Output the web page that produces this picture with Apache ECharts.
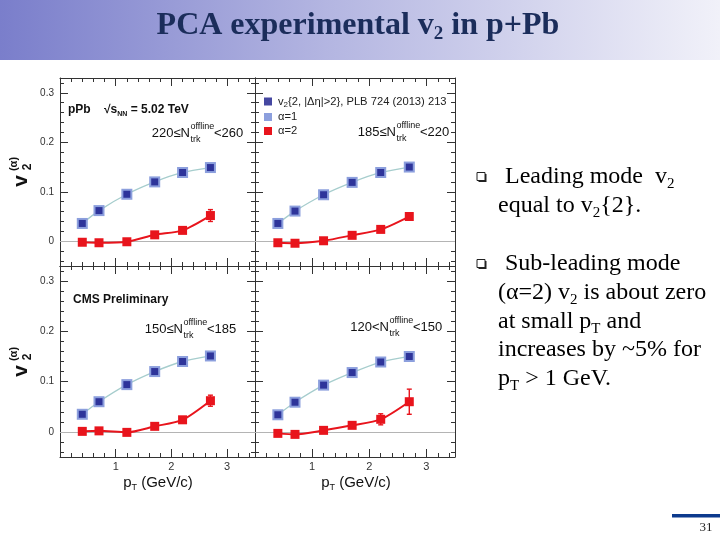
<!DOCTYPE html>
<html>
<head>
<meta charset="utf-8">
<script src="https://cdn.jsdelivr.net/npm/echarts@6/dist/echarts.min.js"></script>
<style>html,body{margin:0;padding:0;background:#fff}#c{width:720px;height:540px}</style>
</head>
<body>
<div id="c"></div>
<script>
// ---------------- data ----------------
const pT = [0.4, 0.7, 1.2, 1.7, 2.2, 2.7];
const xMajorTicks = [1, 2, 3];
const xMinorTicks = [0.2, 0.4, 0.6, 0.8, 1.2, 1.4, 1.6, 1.8, 2.2, 2.4, 2.6, 2.8, 3.2, 3.4];
const yMajorTicks = [0, 0.1, 0.2, 0.3];
const yMinorTicks = [-0.04, -0.02, 0.02, 0.04, 0.06, 0.08, 0.12, 0.14, 0.16, 0.18, 0.22, 0.24, 0.26, 0.28, 0.32];

// 220 <= N < 260
const v2pub_220_260 = [0.036, 0.062, 0.095, 0.120, 0.139, 0.149];
const alpha1_220_260 = [0.036, 0.062, 0.095, 0.120, 0.139, 0.149];
const alpha2_220_260 = [-0.002, -0.003, -0.001, 0.013, 0.022, 0.052];
const alpha2err_220_260 = [0.002, 0.002, 0.002, 0.003, 0.005, 0.012];
// 185 <= N < 220
const v2pub_185_220 = [0.036, 0.061, 0.094, 0.119, 0.139, 0.150];
const alpha1_185_220 = [0.036, 0.061, 0.094, 0.119, 0.139, 0.150];
const alpha2_185_220 = [-0.003, -0.004, 0.001, 0.012, 0.024, 0.050];
const alpha2err_185_220 = [0.002, 0.002, 0.002, 0.003, 0.004, 0.006];
// 150 <= N < 185
const v2pub_150_185 = [0.035, 0.060, 0.094, 0.120, 0.140, 0.151];
const alpha1_150_185 = [0.035, 0.060, 0.094, 0.120, 0.140, 0.151];
const alpha2_150_185 = [0.001, 0.002, -0.001, 0.011, 0.024, 0.062];
const alpha2err_150_185 = [0.002, 0.002, 0.002, 0.003, 0.004, 0.011];
// 120 < N < 150
const v2pub_120_150 = [0.034, 0.059, 0.093, 0.118, 0.139, 0.150];
const alpha1_120_150 = [0.034, 0.059, 0.093, 0.118, 0.139, 0.150];
const alpha2_120_150 = [-0.003, -0.005, 0.003, 0.013, 0.025, 0.060];
const alpha2err_120_150 = [0.002, 0.002, 0.003, 0.004, 0.011, 0.025];

const V2NAME = 'v2{2, |Δη|>2}, PLB 724 (2013) 213';
const A1NAME = 'α=1';
const A2NAME = 'α=2';

// ---------------- layout / style ----------------
const SANS = '"Liberation Sans", Arial, Helvetica, sans-serif';
const SERIF = '"Liberation Serif", "Times New Roman", serif';
const AXC = '#333';
const NAVY = '#16198a';
const LIGHTBLUE = '#8c9fdd';
const TEAL = '#a6cdcd';
const RED = '#e8141c';

const panels = [
  {v2: v2pub_220_260, a1: alpha1_220_260, a2: alpha2_220_260, err: alpha2err_220_260},
  {v2: v2pub_185_220, a1: alpha1_185_220, a2: alpha2_185_220, err: alpha2err_185_220},
  {v2: v2pub_150_185, a1: alpha1_150_185, a2: alpha2_150_185, err: alpha2err_150_185},
  {v2: v2pub_120_150, a1: alpha1_120_150, a2: alpha2_120_150, err: alpha2err_120_150}
];
const grids = [
  {left: 60, top: 78, width: 195, height: 188},
  {left: 255, top: 78, width: 200, height: 188},
  {left: 60, top: 266, width: 195, height: 191},
  {left: 255, top: 266, width: 200, height: 191}
];

const xAxes = [], yAxes = [], series = [];
grids.forEach((g, gi) => {
  const showX = gi >= 2, showY = gi % 2 === 0;
  const xBase = {type: 'value', gridIndex: gi, min: 0, max: 3.5, splitLine: {show: false}};
  const yBase = {type: 'value', gridIndex: gi, min: -0.05, max: 0.33, splitLine: {show: false}};
  const line = {show: true, onZero: false, lineStyle: {color: AXC, width: 1}};
  const noLine = {show: false, onZero: false};
  ['bottom', 'top'].forEach(pos => {
    xAxes.push(Object.assign({}, xBase, {position: pos, axisLine: line,
      axisTick: {show: true, inside: true, length: 8, customValues: xMajorTicks, lineStyle: {color: AXC, width: 1}},
      axisLabel: {show: showX && pos === 'bottom', customValues: xMajorTicks, color: '#333', fontSize: 11, fontFamily: SANS, margin: 4}}));
    xAxes.push(Object.assign({}, xBase, {position: pos, axisLine: noLine,
      axisTick: {show: true, inside: true, length: 4, customValues: xMinorTicks, lineStyle: {color: AXC, width: 1}},
      axisLabel: {show: false}}));
  });
  ['left', 'right'].forEach(pos => {
    yAxes.push(Object.assign({}, yBase, {position: pos, axisLine: line,
      axisTick: {show: true, inside: true, length: 8, customValues: yMajorTicks, lineStyle: {color: AXC, width: 1}},
      axisLabel: {show: showY && pos === 'left', customValues: yMajorTicks, color: '#333', fontSize: 10, fontFamily: SANS, margin: 6}}));
    yAxes.push(Object.assign({}, yBase, {position: pos, axisLine: noLine,
      axisTick: {show: true, inside: true, length: 4, customValues: yMinorTicks, lineStyle: {color: AXC, width: 1}},
      axisLabel: {show: false}}));
  });
  const p = panels[gi];
  const xi = gi * 4, yi = gi * 4;
  series.push({
    type: 'line', name: A1NAME, xAxisIndex: xi, yAxisIndex: yi, z: 3,
    data: pT.map((x, i) => [x, p.a1[i]]), smooth: 0.25,
    symbol: 'rect', symbolSize: 11, itemStyle: {color: LIGHTBLUE},
    lineStyle: {color: TEAL, width: 1.3},
    markLine: {silent: true, symbol: 'none', label: {show: false}, animation: false,
      lineStyle: {color: '#b4b4b4', width: 1, type: 'solid'}, data: [{yAxis: 0}]}
  });
  series.push({
    type: 'scatter', name: V2NAME, xAxisIndex: xi, yAxisIndex: yi, z: 4,
    data: pT.map((x, i) => [x, p.v2[i]]),
    symbol: 'rect', symbolSize: 7, itemStyle: {color: NAVY}
  });
  series.push({
    type: 'custom', xAxisIndex: xi, yAxisIndex: yi, z: 5, encode: {x: 0, y: 1},
    data: pT.map((x, i) => [x, p.a2[i], p.err[i]]),
    renderItem: (params, api) => {
      const x = api.value(0), y = api.value(1), e = api.value(2);
      const hi = api.coord([x, y + e]), lo = api.coord([x, y - e]);
      const w = 2.5, st = {stroke: RED, lineWidth: 1.4};
      return {type: 'group', children: [
        {type: 'line', shape: {x1: hi[0], y1: hi[1], x2: lo[0], y2: lo[1]}, style: st},
        {type: 'line', shape: {x1: hi[0] - w, y1: hi[1], x2: hi[0] + w, y2: hi[1]}, style: st},
        {type: 'line', shape: {x1: lo[0] - w, y1: lo[1], x2: lo[0] + w, y2: lo[1]}, style: st}
      ]};
    }
  });
  series.push({
    type: 'line', name: A2NAME, xAxisIndex: xi, yAxisIndex: yi, z: 6,
    data: pT.map((x, i) => [x, p.a2[i]]), smooth: 0.25,
    symbol: 'rect', symbolSize: 9, itemStyle: {color: RED},
    lineStyle: {color: RED, width: 2}
  });
});

// ---------------- text graphics ----------------
function T(x, y, text, o) {
  o = o || {};
  return {type: 'text', x: x, y: y, rotation: o.rotation || 0, z: 50, silent: true,
    style: {text: text, fill: o.fill || '#111', fontSize: o.size || 12, fontFamily: o.family || SANS,
      fontWeight: o.weight || 'normal', align: o.align || 'left', verticalAlign: 'middle', rich: o.rich}};
}
function nLabel(xEnd, y, prefix, suffix) {
  return [
    T(xEnd, y, prefix, {size: 13, align: 'right'}),
    T(xEnd + 0.5, y - 6, 'offline', {size: 9}),
    T(xEnd + 0.5, y + 7, 'trk', {size: 9}),
    T(xEnd + 24, y, suffix, {size: 13})
  ];
}
function yTitle(x, y) {
  return [
    T(x, y, 'v', {size: 21, weight: 'bold', rotation: Math.PI / 2, align: 'center'}),
    T(x + 7, y - 14, '2', {size: 12, weight: 'bold', rotation: Math.PI / 2, align: 'center'}),
    T(x - 7, y - 17, '(α)', {size: 11, weight: 'bold', rotation: Math.PI / 2, align: 'center'})
  ];
}
function bullet(x, y) {
  return [
    {type: 'rect', z: 50, silent: true, shape: {x: x + 1.5, y: y - 3, width: 8, height: 8}, style: {fill: '#222'}},
    {type: 'rect', z: 51, silent: true, shape: {x: x, y: y - 4.5, width: 8, height: 8}, style: {fill: '#fff', stroke: '#222', lineWidth: 1}}
  ];
}
const subRich = (size) => ({
  n: {fontSize: size, fontFamily: SERIF, fill: '#000', color: '#000', lineHeight: size + 6},
  s: {fontSize: Math.round(size * 0.62), fontFamily: SERIF, fill: '#000', color: '#000', lineHeight: Math.round(size * 0.62), verticalAlign: 'bottom'}
});
const bodyRich = subRich(24);
const bodyOpts = {size: 24, family: SERIF, fill: '#000', rich: bodyRich};

const graphics = [
  {type: 'rect', z: 1, silent: true, shape: {x: 0, y: 0, width: 720, height: 60},
    style: {fill: new echarts.graphic.LinearGradient(0, 0, 1, 0, [
      {offset: 0, color: '#7a7ecb'}, {offset: 0.45, color: '#b3b5e1'}, {offset: 1, color: '#f1f1f9'}])}},
  T(358, 26, '{t|PCA experimental v}{s|2}{t| in p+Pb}', {rich: {
    t: {fontSize: 32, fontWeight: 'bold', fontFamily: SERIF, fill: '#1b2d5b', color: '#1b2d5b', lineHeight: 36},
    s: {fontSize: 19, fontWeight: 'bold', fontFamily: SERIF, fill: '#1b2d5b', color: '#1b2d5b', lineHeight: 19, verticalAlign: 'bottom'}
  }, align: 'center'}),
  // panel annotations
  T(68, 110, 'pPb', {size: 12, weight: 'bold'}),
  T(104, 110, '{b|√s}{sb|NN}{b| = 5.02 TeV}', {rich: {
    b: {fontSize: 12, fontWeight: 'bold', fontFamily: SANS, fill: '#111', lineHeight: 16},
    sb: {fontSize: 7, fontWeight: 'bold', fontFamily: SANS, fill: '#111', lineHeight: 8, verticalAlign: 'bottom'}
  }}),
  T(73, 300, 'CMS Preliminary', {size: 12, weight: 'bold'}),
  ...nLabel(190, 133, '220≤N', '<260'),
  ...nLabel(396, 132, '185≤N', '<220'),
  ...nLabel(183, 329, '150≤N', '<185'),
  ...nLabel(389, 327, '120<N', '<150'),
  ...yTitle(21, 181),
  ...yTitle(21, 371),
  T(158, 483, '{p|p}{s|T}{p| (GeV/c)}', {align: 'center', rich: {
    p: {fontSize: 15, fontFamily: SANS, fill: '#111', lineHeight: 18},
    s: {fontSize: 9, fontFamily: SANS, fill: '#111', lineHeight: 9, verticalAlign: 'bottom'}}}),
  T(356, 483, '{p|p}{s|T}{p| (GeV/c)}', {align: 'center', rich: {
    p: {fontSize: 15, fontFamily: SANS, fill: '#111', lineHeight: 18},
    s: {fontSize: 9, fontFamily: SANS, fill: '#111', lineHeight: 9, verticalAlign: 'bottom'}}}),
  // right-hand text
  ...bullet(477, 177),
  T(505, 177, '{n|Leading mode  v}{s|2}', bodyOpts),
  T(498, 206, '{n|equal to v}{s|2}{2}.', bodyOpts),
  ...bullet(477, 264),
  T(505, 264, '{n|Sub-leading mode}', bodyOpts),
  T(498, 293, '{n|(α=2) v}{s|2}{n| is about zero}', bodyOpts),
  T(498, 322, '{n|at small p}{s|T}{n| and}', bodyOpts),
  T(498, 350, '{n|increases by ~5% for}', bodyOpts),
  T(498, 379, '{n|p}{s|T}{n| > 1 GeV.}', bodyOpts),
  // footer
  {type: 'rect', z: 1, silent: true, shape: {x: 672, y: 514, width: 48, height: 3.5}, style: {fill: '#0c3a8d'}},
  T(706, 528, '31', {size: 13, family: SERIF, fill: '#222', align: 'center'})
];

const chart = echarts.init(document.getElementById('c'), null, {renderer: 'canvas'});
chart.setOption({
  animation: false,
  backgroundColor: '#fff',
  grid: grids,
  xAxis: xAxes,
  yAxis: yAxes,
  legend: {
    data: [{name: V2NAME, icon: 'rect'}, {name: A1NAME, icon: 'rect'}, {name: A2NAME, icon: 'rect'}],
    orient: 'vertical', left: 259, top: 91, itemWidth: 8, itemHeight: 8, itemGap: 3,
    selectedMode: false,
    formatter: name => name === V2NAME ? '{n|v}{s|2}{2, |Δη|>2}, PLB 724 (2013) 213' : '{n|' + name + '}',
    textStyle: {fontFamily: SANS, fontSize: 11.2, color: '#222', padding: [0, 0, 0, 1], rich: {
      n: {fontFamily: SANS, fontSize: 11.2, color: '#222', lineHeight: 14},
      s: {fontFamily: SANS, fontSize: 8, color: '#222', lineHeight: 8, verticalAlign: 'bottom'}}}
  },
  graphic: graphics,
  series: series
});
</script>
</body>
</html>
